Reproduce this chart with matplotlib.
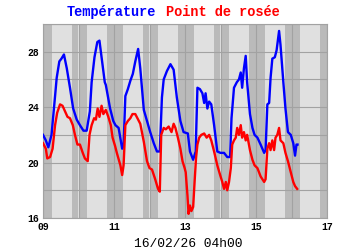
import numpy as np
import matplotlib.pyplot as plt
from matplotlib.ticker import MultipleLocator

# days since 09/02 00h00, values in degC
temp_t = [0.00, 0.08, 0.15, 0.24, 0.34, 0.385, 0.46, 0.52, 0.59, 0.67, 0.76, 0.85, 0.95,
          1.04, 1.14, 1.23, 1.32, 1.37, 1.45, 1.53, 1.59, 1.65, 1.70, 1.74, 1.77, 1.89, 1.98,
          2.04, 2.13, 2.23, 2.27, 2.32, 2.39, 2.46, 2.53, 2.60, 2.68, 2.74, 2.84, 2.93,
          3.02, 3.12, 3.21, 3.29, 3.35, 3.40, 3.49, 3.59, 3.68, 3.77, 3.87, 3.96,
          4.08, 4.14, 4.23, 4.30, 4.35, 4.42, 4.49, 4.54, 4.58, 4.63, 4.68, 4.74, 4.82, 4.91,
          5.00, 5.10, 5.19, 5.27, 5.31, 5.38, 5.46, 5.52, 5.57, 5.61, 5.66, 5.71, 5.75, 5.83,
          5.90, 5.96, 6.04, 6.13, 6.23, 6.27, 6.32, 6.37, 6.41, 6.46, 6.53, 6.58, 6.65, 6.69,
          6.77, 6.83, 6.90, 6.98, 7.05, 7.10, 7.14, 7.17]
temp_v = [22.0, 21.6, 21.1, 22.0, 24.8, 26.1, 27.3, 27.5, 27.8, 26.8, 25.4, 23.9, 23.1,
          22.7, 22.3, 22.3, 23.7, 25.8, 27.6, 28.7, 28.8, 27.6, 26.6, 25.8, 25.6, 23.9, 23.0,
          22.7, 22.5, 21.0, 21.3, 24.8, 25.3, 25.9, 26.4, 27.3, 28.2, 26.8, 23.8, 23.0,
          22.2, 21.4, 20.8, 20.8, 24.7, 26.0, 26.6, 27.1, 26.7, 24.7, 23.0, 22.2,
          22.1, 20.8, 20.2, 20.8, 25.4, 25.3, 25.0, 24.3, 25.0, 23.9, 24.4, 24.2, 22.7, 20.8,
          20.7, 20.7, 20.4, 20.4, 23.2, 25.4, 25.8, 26.0, 26.5, 25.4, 26.8, 27.7, 25.8, 23.5,
          22.5, 22.0, 21.8, 21.3, 20.7, 20.9, 24.2, 24.3, 26.1, 27.5, 27.6, 28.1, 29.5, 28.5,
          25.8, 23.9, 22.2, 22.0, 21.4, 20.5, 21.3, 21.3]

dew_t = [0.00, 0.08, 0.12, 0.20, 0.27, 0.34, 0.40, 0.48, 0.55, 0.62, 0.69, 0.76, 0.84, 0.90,
         0.97, 1.04, 1.12, 1.18, 1.26, 1.31, 1.37, 1.44, 1.49, 1.54, 1.59, 1.65, 1.70, 1.77,
         1.84, 1.91, 1.96, 2.03, 2.08, 2.18, 2.23, 2.27, 2.32, 2.39, 2.46, 2.52, 2.60, 2.68,
         2.74, 2.84, 2.93, 3.00, 3.07, 3.16, 3.24, 3.29, 3.33, 3.40, 3.46, 3.54, 3.62, 3.68,
         3.73, 3.80, 3.87, 3.93, 3.99, 4.02, 4.07, 4.10, 4.14, 4.18, 4.23, 4.27, 4.31, 4.35,
         4.40, 4.46, 4.54, 4.61, 4.68, 4.74, 4.82, 4.91, 4.99, 5.05, 5.10, 5.15, 5.19, 5.24,
         5.29, 5.33, 5.38, 5.43, 5.47, 5.52, 5.57, 5.61, 5.66, 5.71, 5.75, 5.83, 5.90, 5.96,
         6.04, 6.13, 6.23, 6.27, 6.32, 6.37, 6.41, 6.46, 6.51, 6.55, 6.60, 6.65, 6.69, 6.77,
         6.83, 6.90, 6.95, 6.99, 7.05, 7.10, 7.16]
dew_v = [21.4, 21.0, 20.3, 20.4, 21.0, 22.7, 23.6, 24.2, 24.1, 23.7, 23.3, 23.2, 22.7, 22.0,
         21.3, 21.3, 20.7, 20.3, 20.1, 22.0, 22.7, 23.2, 23.1, 23.9, 23.3, 24.1, 23.5, 23.8,
         23.3, 22.7, 21.8, 21.2, 20.7, 19.8, 19.1, 19.8, 22.7, 23.0, 23.2, 23.5, 23.5, 23.1,
         22.8, 21.5, 20.1, 19.6, 19.5, 18.8, 18.1, 17.9, 22.0, 22.5, 22.4, 22.6, 22.2, 22.8,
         22.5, 21.8, 21.0, 20.1, 19.6, 19.3, 17.6, 16.3, 16.9, 16.5, 16.8, 18.6, 20.3, 21.3,
         21.8, 22.0, 22.1, 21.8, 22.0, 21.6, 20.8, 19.8, 19.1, 18.6, 18.1, 18.6, 18.0, 18.6,
         19.6, 21.3, 21.6, 21.8, 22.5, 22.0, 22.7, 21.8, 22.2, 21.6, 22.0, 20.9, 20.2, 19.8,
         19.6, 19.0, 18.6, 18.8, 21.0, 21.4, 20.9, 21.6, 20.9, 21.8, 22.0, 22.5, 21.6, 21.4,
         20.7, 20.1, 19.6, 19.2, 18.6, 18.3, 18.1]

first_day = 9
days = list(range(9, 17))
sunrise_h = 5.9
sunset_h = 19.4
x_ticks = [9, 11, 13, 15, 17]
x_labels = ["09", "11", "13", "15", "17"]
y_ticks = [16, 20, 24, 28]

light = "#e0e0e0"
night = "#bababa"
grid_col = "#a2a2a2"
mono = "Liberation Mono"

fig = plt.figure(figsize=(3.5, 2.5), dpi=100)
ax = fig.add_axes([43 / 350, 32 / 250, 284 / 350, 194 / 250])
ax.set_facecolor(light)

for d in days:
    ax.axvspan(d, d + sunrise_h / 24, color=night, lw=0, zorder=0)
    ax.axvspan(d + sunset_h / 24, d + 1, color=night, lw=0, zorder=0)

ax.plot(np.array(temp_t) + first_day, temp_v, color="#0000ff", lw=1.7, zorder=3)
ax.plot(np.array(dew_t) + first_day, dew_v, color="#ff0000", lw=1.7, zorder=3)

ax.set_xlim(9, 17)
ax.set_ylim(16, 30)
ax.set_xticks(x_ticks)
ax.set_xticklabels(x_labels)
ax.set_yticks(y_ticks)
ax.xaxis.set_minor_locator(MultipleLocator(1))
ax.yaxis.set_minor_locator(MultipleLocator(2))
ax.grid(True, which="both", color=grid_col, lw=0.8, zorder=1)
ax.set_axisbelow(True)
ax.tick_params(which="both", length=0, pad=3)
for lab in ax.get_xticklabels() + ax.get_yticklabels():
    lab.set_fontfamily(mono)
    lab.set_fontweight("bold")
    lab.set_fontsize(7)
for s in ax.spines.values():
    s.set_color(grid_col)
    s.set_linewidth(0.8)

fig.text(0.446, 0.952, "Température", color="#0000ff", family=mono,
         fontweight="bold", fontsize=9.8, ha="right", va="center")
fig.text(0.474, 0.952, "Point de rosée", color="#ff0000", family=mono,
         fontweight="bold", fontsize=9.8, ha="left", va="center")
fig.text(0.537, 0.024, "16/02/26 04h00", family=mono, fontsize=9.4,
         ha="center", va="center")

fig.savefig("out.png", dpi=100)
